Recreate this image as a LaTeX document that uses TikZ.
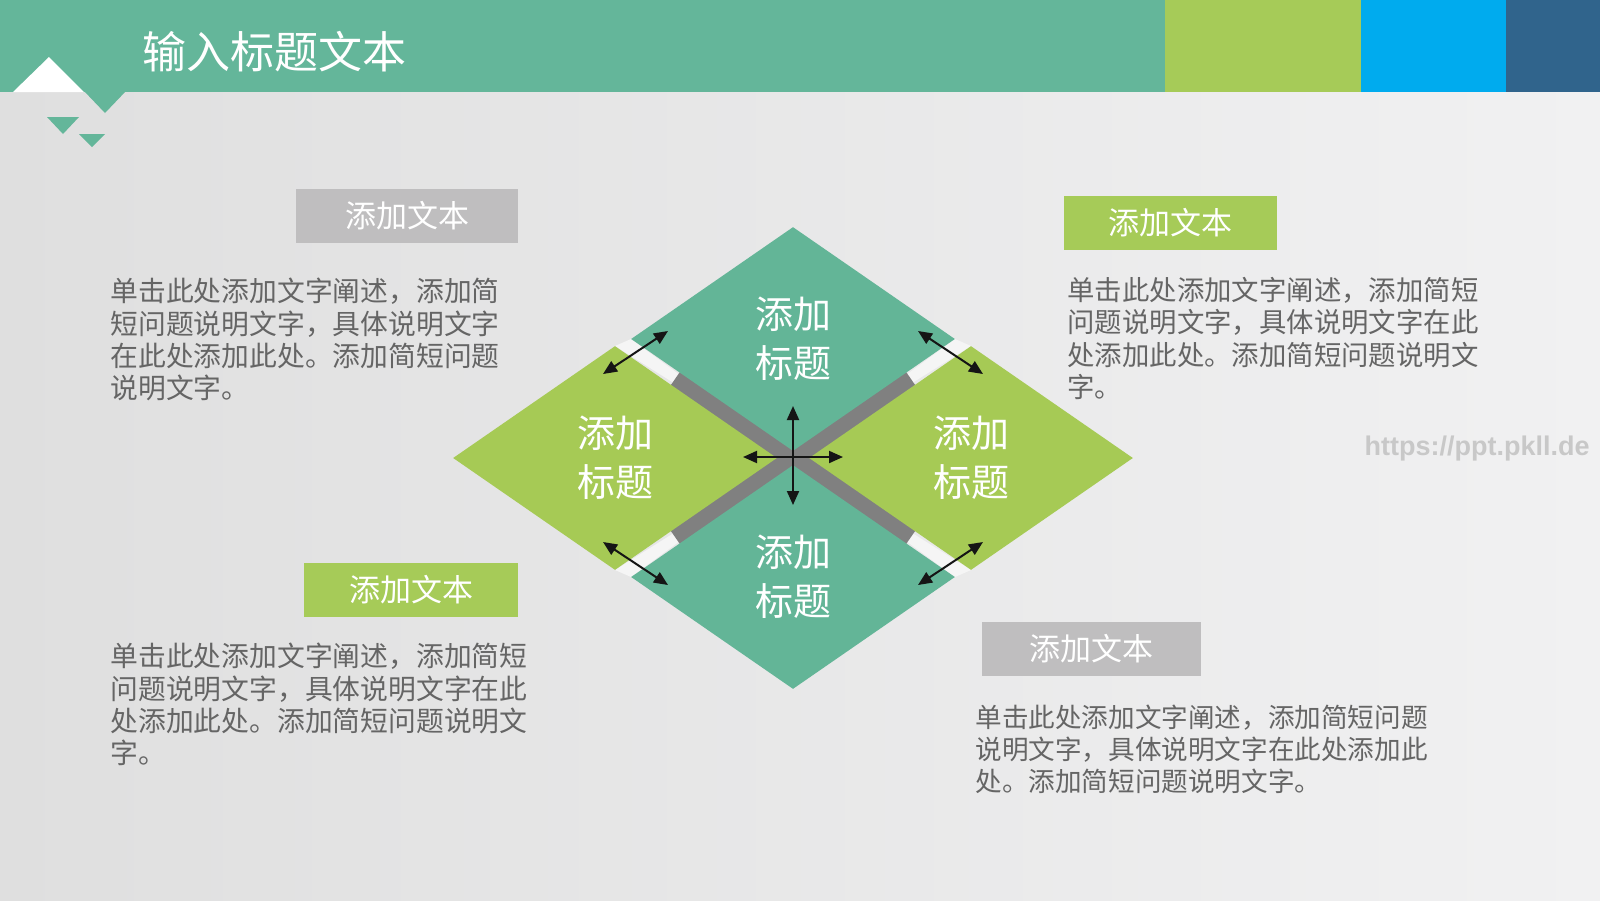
\documentclass[tikz,border=0pt]{standalone}
\usepackage{fontspec}
\newfontfamily\cjk{Noto Sans CJK SC}
\newfontfamily\wmfont{Liberation Sans}
\usetikzlibrary{shapes.geometric,arrows.meta}
\definecolor{bgL}{HTML}{DFDFDF}
\definecolor{bgR}{HTML}{F1F1F2}
\definecolor{hteal}{HTML}{64B69A}
\definecolor{hgreen}{HTML}{A6CB58}
\definecolor{hblue}{HTML}{00ABEE}
\definecolor{hdark}{HTML}{30648C}
\definecolor{dteal}{HTML}{63B597}
\definecolor{dgreen}{HTML}{A6CA55}
\definecolor{barc}{HTML}{808080}
\definecolor{gapc}{HTML}{F5F5F5}
\definecolor{boxgray}{HTML}{BFBEBF}
\definecolor{bodyc}{HTML}{656565}
\definecolor{wmgray}{HTML}{C8C8C8}
\definecolor{arrowc}{HTML}{151515}
\tikzset{
  rhomb/.style={diamond, minimum width=162pt, minimum height=112pt, inner sep=0pt,
    text=white, align=center, font=\cjk\fontsize{19pt}{24.5pt}\selectfont},
  labelbox/.style={minimum height=27pt, inner sep=0pt, text=white,
    font=\cjk\fontsize{15.5pt}{18pt}\selectfont},
  para/.style={anchor=north west, inner sep=0pt, align=left, text=bodyc},
  graybar/.style={draw=barc, line width=10pt},
  dblarrow/.style={{Triangle[length=7pt,width=6pt]}-{Triangle[length=7pt,width=6pt]},
    line width=1pt, draw=arrowc}
}
\begin{document}
\begin{tikzpicture}[x=0.5pt,y=-0.5pt]
\useasboundingbox (0,0) rectangle (1600,900);
\fill[left color=bgL, right color=bgR] (0,0) rectangle (1600,900);
% header
\fill[hteal] (0,0) rectangle (1165,92);
\fill[hgreen] (1165,0) rectangle (1361,92);
\fill[hblue] (1361,0) rectangle (1506,92);
\fill[hdark] (1506,0) rectangle (1600,92);
\fill[white] (13,92) -- (49,57) -- (84,92) -- cycle;
\fill[hteal] (84,91) -- (105,113) -- (126,91) -- cycle;
\fill[hteal] (47,117) -- (79,117) -- (63,134) -- cycle;
\fill[hteal] (79,134) -- (105,134) -- (92,147) -- cycle;
\node[text=white, font=\cjk\fontsize{22pt}{26pt}\selectfont] (title) at (274,52) {输入标题文本};
% central figure
\coordinate (ctr) at (793,458);
\fill[gapc] (631,339) -- (615,346) -- (ctr) -- cycle;
\fill[gapc] (955,339) -- (971,346) -- (ctr) -- cycle;
\fill[gapc] (615,570) -- (631,577) -- (ctr) -- cycle;
\fill[gapc] (971,570) -- (955,577) -- (ctr) -- cycle;
\draw[graybar] (676.2,377.3) -- (909.8,538.7);
\draw[graybar] (676.2,538.7) -- (909.8,377.3);
\node[rhomb, fill=dteal] (dT) at (793,339) {添加\\标题};
\node[rhomb, fill=dgreen] (dL) at (615,458) {添加\\标题};
\node[rhomb, fill=dgreen] (dR) at (971,458) {添加\\标题};
\node[rhomb, fill=dteal] (dB) at (793,577) {添加\\标题};
% arrows
\coordinate (ulA) at (668,331); \coordinate (ulB) at (603,374);
\coordinate (urA) at (918,331); \coordinate (urB) at (983,374);
\coordinate (llA) at (603,542); \coordinate (llB) at (668,585);
\coordinate (lrA) at (983,542); \coordinate (lrB) at (918,585);
\coordinate (cU) at (793,406); \coordinate (cD) at (793,505);
\coordinate (cL) at (743,457); \coordinate (cR) at (843,457);
\draw[dblarrow] (ulA) -- (ulB);
\draw[dblarrow] (urA) -- (urB);
\draw[dblarrow] (llA) -- (llB);
\draw[dblarrow] (lrA) -- (lrB);
\draw[dblarrow] (cU) -- (cD);
\draw[dblarrow] (cL) -- (cR);
% label boxes
\node[labelbox, fill=boxgray, minimum width=111pt] (b1) at (407,216) {添加文本};
\node[labelbox, fill=hgreen, minimum width=106.5pt] (b2) at (1170.5,223) {添加文本};
\node[labelbox, fill=hgreen, minimum width=107pt] (b3) at (411,590) {添加文本};
\node[labelbox, fill=boxgray, minimum width=109.5pt] (b4) at (1091.5,649) {添加文本};
% paragraphs
\node[para, font=\cjk\fontsize{13.9pt}{16.1pt}\selectfont] (p1) at (110,278)
  {单击此处添加文字阐述，添加简\\短问题说明文字，具体说明文字\\在此处添加此处。添加简短问题\\说明文字。};
\node[para, font=\cjk\fontsize{13.7pt}{16.15pt}\selectfont] (p2) at (1067,277)
  {单击此处添加文字阐述，添加简短\\问题说明文字，具体说明文字在此\\处添加此处。添加简短问题说明文\\字。};
\node[para, font=\cjk\fontsize{13.9pt}{16.1pt}\selectfont] (p3) at (110,643)
  {单击此处添加文字阐述，添加简短\\问题说明文字，具体说明文字在此\\处添加此处。添加简短问题说明文\\字。};
\node[para, font=\cjk\fontsize{13.3pt}{16pt}\selectfont] (p4) at (975,705)
  {单击此处添加文字阐述，添加简短问题\\说明文字，具体说明文字在此处添加此\\处。添加简短问题说明文字。};
% watermark
\node[text=wmgray, font=\wmfont\bfseries\fontsize{13.5pt}{16pt}\selectfont] (wm) at (1477,449) {https://ppt.pkll.de};
\end{tikzpicture}
\end{document}
